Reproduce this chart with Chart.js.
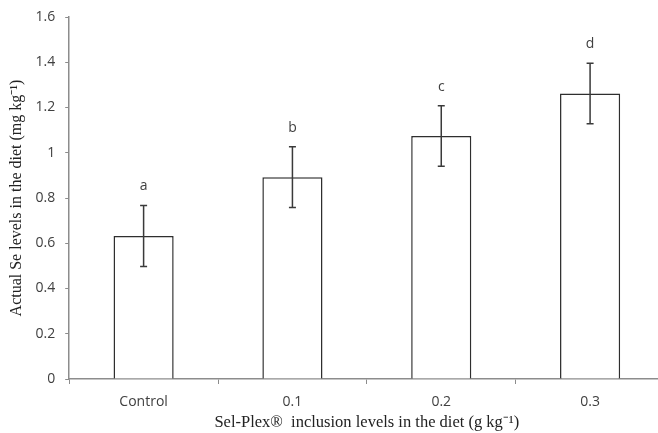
<!DOCTYPE html>
<html>
<head>
<meta charset="utf-8">
<script src="https://cdn.jsdelivr.net/npm/chart.js@4"></script>
<style>
	html, body { margin: 0; padding: 0; background: #fff; overflow: hidden; }
	/* the original figure is cut off on the right, so the canvas runs a bit past the window */
	#wrap { width: 668px; height: 433px; }
</style>
</head>
<body>
<div id="wrap"><canvas id="seChart"></canvas></div>
<script>
// Data
const categories = ['Control', '0.1', '0.2', '0.3'];
const seLevels   = [0.632, 0.892, 1.074, 1.262];
const seErrors   = [0.135, 0.134, 0.134, 0.134];
const letters    = ['a', 'b', 'c', 'd'];
const yTicks     = [0, 0.2, 0.4, 0.6, 0.8, 1, 1.2, 1.4, 1.6];

const AXIS_GRAY = '#8c8c8c';
const TEXT_GRAY = '#404040';

// Draws the error bars and the significance letters above them
const errorBars = {
	id: 'errorBars',
	afterDatasetsDraw(chart) {
		const ctx  = chart.ctx;
		const yAx  = chart.scales.y;
		const meta = chart.getDatasetMeta(0);
		const cap  = 3.5;

		ctx.save();
		ctx.strokeStyle = '#3a3a3a';
		ctx.lineWidth = 1.5;
		meta.data.forEach((bar, i) => {
			const x   = bar.x;
			const top = yAx.getPixelForValue(seLevels[i] + seErrors[i]);
			const bot = yAx.getPixelForValue(seLevels[i] - seErrors[i]);

			ctx.beginPath();
			ctx.moveTo(x, top); ctx.lineTo(x, bot);
			ctx.moveTo(x - cap, top); ctx.lineTo(x + cap, top);
			ctx.moveTo(x - cap, bot); ctx.lineTo(x + cap, bot);
			ctx.stroke();

			ctx.fillStyle = TEXT_GRAY;
			ctx.font = '14px "Open Sans", sans-serif';
			ctx.textAlign = 'center';
			ctx.textBaseline = 'middle';
			ctx.fillText(letters[i], x, top - 19);
		});
		ctx.restore();
	}
};

new Chart(document.getElementById('seChart'), {
	type: 'bar',
	data: {
		labels: categories,
		datasets: [{
			data: seLevels,
			backgroundColor: '#ffffff',
			borderColor: '#2e2e2e',
			borderWidth: 1.5,
			borderSkipped: 'bottom',
			barPercentage: 0.404,
			categoryPercentage: 1
		}]
	},
	options: {
		responsive: true,
		maintainAspectRatio: false,
		animation: false,
		layout: { padding: { top: 12, right: 3.5, left: 9, bottom: 2.5 } },
		plugins: {
			legend: { display: false },
			tooltip: { enabled: false }
		},
		scales: {
			x: {
				grid: {
					display: true,
					drawOnChartArea: false,
					drawTicks: true,
					tickLength: 5,
					color: AXIS_GRAY
				},
				border: { display: true, color: AXIS_GRAY, width: 1.5 },
				ticks: {
					color: TEXT_GRAY,
					font: { family: '"Open Sans", sans-serif', size: 14, lineHeight: 1 },
					padding: 11
				},
				title: {
					display: true,
					text: 'Sel-Plex®  inclusion levels in the diet (g kg⁻¹)',
					color: '#222',
					font: { family: '"Liberation Serif", "Times New Roman", serif', size: 16.5, lineHeight: 1 },
					padding: { top: -6, bottom: 0 }
				}
			},
			y: {
				min: 0,
				max: 1.6,
				afterBuildTicks: (scale) => { scale.ticks = yTicks.map(v => ({ value: v })); },
				grid: {
					display: true,
					drawOnChartArea: false,
					drawTicks: true,
					tickLength: 4,
					color: AXIS_GRAY
				},
				border: { display: true, color: AXIS_GRAY, width: 1.5 },
				ticks: {
					color: TEXT_GRAY,
					font: { family: '"Open Sans", sans-serif', size: 14, lineHeight: 1 },
					padding: 10,
					callback: (v) => String(Math.round(v * 10) / 10)
				},
				title: {
					display: true,
					text: 'Actual Se levels in the diet (mg kg⁻¹)',
					color: '#222',
					font: { family: '"Liberation Serif", "Times New Roman", serif', size: 16, lineHeight: 1 },
					padding: { top: 0, bottom: 0.5 }
				}
			}
		}
	},
	plugins: [errorBars]
});
</script>
</body>
</html>
